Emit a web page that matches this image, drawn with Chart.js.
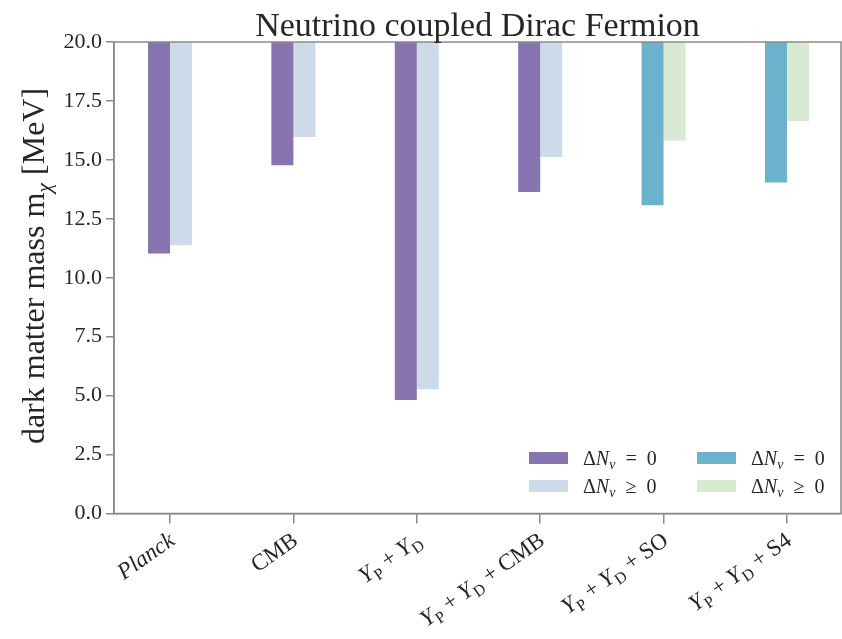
<!DOCTYPE html>
<html>
<head>
<meta charset="utf-8">
<script src="https://cdn.jsdelivr.net/npm/chart.js@4/dist/chart.umd.min.js"></script>
<style>
    html, body { margin: 0; padding: 0; background: #fff; }
    canvas { display: block; }
</style>
</head>
<body>
<canvas id="massChart" width="842" height="639"></canvas>
<script>
// Data
const categories = ['Planck', 'CMB', 'Y_P + Y_D', 'Y_P + Y_D + CMB', 'Y_P + Y_D + SO', 'Y_P + Y_D + S4'];
const deltaZero = [11.03, 14.77, 4.81, 13.64, 13.08, 14.04];      // ΔNν = 0
const deltaPositive = [11.38, 15.97, 5.27, 15.12, 15.82, 16.65];  // ΔNν ≥ 0
const yTop = 20;
const yTicks = [0, 2.5, 5, 7.5, 10, 12.5, 15, 17.5, 20];
const forecastCats = ['Y_P + Y_D + SO', 'Y_P + Y_D + S4'];

const COLORS = {
    purple: '#8874b1',
    lightBlue: '#cddae9',
    teal: '#6bb3cd',
    lightGreen: '#d9ead3',
    axis: '#8a8a8a',
    text: '#262626'
};
const SERIF = '"Liberation Serif", "DejaVu Serif", serif';

const isForecast = c => forecastCats.includes(c);
const darkColors = categories.map(c => isForecast(c) ? COLORS.teal : COLORS.purple);
const paleColors = categories.map(c => isForecast(c) ? COLORS.lightGreen : COLORS.lightBlue);

// Turn 'Y_P + Y_D' into pieces: Y italic, P subscript
function parseLabel(label) {
    if (label === 'Planck') return [{ t: 'Planck', it: true }];
    const parts = [];
    const re = /([A-Za-z])_([A-Za-z0-9])/g;
    let last = 0, m;
    while ((m = re.exec(label)) !== null) {
        if (m.index > last) parts.push({ t: label.slice(last, m.index) });
        parts.push({ t: m[1], it: true });
        parts.push({ t: m[2], sub: true });
        last = re.lastIndex;
    }
    if (last < label.length) parts.push({ t: label.slice(last) });
    return parts;
}

function partFont(p, size) {
    const s = p.sub ? Math.round(size * 0.7) : size;
    return (p.it ? 'italic ' : '') + s + 'px ' + SERIF;
}

function richWidth(ctx, parts, size) {
    let w = 0;
    parts.forEach(p => { ctx.font = partFont(p, size); w += ctx.measureText(p.t).width; });
    return w;
}

function drawRich(ctx, parts, x, y, size) {
    let cx = x;
    parts.forEach(p => {
        ctx.font = partFont(p, size);
        ctx.fillText(p.t, cx, p.sub ? y + size * 0.22 : y);
        cx += ctx.measureText(p.t).width;
    });
}

const nuParts = [{ t: 'Δ' }, { t: 'N', it: true }, { t: 'ν', it: true, sub: true }];
const legendItems = [
    { color: COLORS.purple, parts: nuParts.concat([{ t: '  =  0' }]) },
    { color: COLORS.teal, parts: nuParts.concat([{ t: '  =  0' }]) },
    { color: COLORS.lightBlue, parts: nuParts.concat([{ t: '  ≥  0' }]) },
    { color: COLORS.lightGreen, parts: nuParts.concat([{ t: '  ≥  0' }]) }
];

// Frame, title, axis title, rotated tick labels and the in-plot legend
const decorations = {
    id: 'decorations',
    afterDraw(chart) {
        const { ctx, chartArea: a, scales } = chart;
        ctx.save();

        ctx.strokeStyle = COLORS.axis;
        ctx.lineWidth = 1.5;
        ctx.strokeRect(a.left, a.top, a.right - a.left, a.bottom - a.top);

        ctx.fillStyle = COLORS.text;
        ctx.textBaseline = 'alphabetic';

        // title
        ctx.font = '34px ' + SERIF;
        ctx.textAlign = 'center';
        ctx.fillText('Neutrino coupled Dirac Fermion', (a.left + a.right) / 2, 36);
        ctx.textAlign = 'left';

        // y axis title
        const yParts = [{ t: 'dark matter mass m' }, { t: 'χ', it: true, sub: true }, { t: ' [MeV]' }];
        const ySize = 32;
        const yw = richWidth(ctx, yParts, ySize);
        ctx.save();
        ctx.translate(44, 266);
        ctx.rotate(-Math.PI / 2);
        drawRich(ctx, yParts, -yw / 2, 0, ySize);
        ctx.restore();

        // x tick labels, rotated 35 degrees, ending just right of each tick
        const xSize = 23;
        categories.forEach((c, i) => {
            const parts = parseLabel(c);
            const w = richWidth(ctx, parts, xSize);
            const px = scales.x.getPixelForValue(i);
            ctx.save();
            ctx.translate(px + 6, a.bottom + 30);
            ctx.rotate(-35 * Math.PI / 180);
            drawRich(ctx, parts, -w, 0, xSize);
            ctx.restore();
        });

        // legend, two columns inside the plot
        const cols = [529, 697];
        const rows = [458, 486];
        legendItems.forEach((item, k) => {
            const x = cols[k % 2], y = rows[Math.floor(k / 2)];
            ctx.fillStyle = item.color;
            ctx.fillRect(x, y - 6, 39, 12);
            ctx.fillStyle = COLORS.text;
            drawRich(ctx, item.parts, x + 54, y + 7, 20);
        });

        ctx.restore();
    }
};

const ctx = document.getElementById('massChart');
const chart = new Chart(ctx, {
    type: 'bar',
    data: {
        datasets: [
            {
                label: 'ΔNν = 0',
                data: categories.map((c, i) => ({ x: i, y: [deltaZero[i], yTop] })),
                backgroundColor: darkColors,
                borderWidth: 0
            },
            {
                label: 'ΔNν ≥ 0',
                data: categories.map((c, i) => ({ x: i, y: [deltaPositive[i], yTop] })),
                backgroundColor: paleColors,
                borderWidth: 0
            }
        ]
    },
    options: {
        responsive: false,
        animation: false,
        devicePixelRatio: 1,
        categoryPercentage: 0.357,
        barPercentage: 1,
        layout: { padding: { top: 42, right: 1, left: 0, bottom: 0 } },
        plugins: {
            legend: { display: false },
            tooltip: { enabled: false }
        },
        scales: {
            x: {
                type: 'linear',
                offset: false,
                min: -0.454,
                max: 5.438,
                afterBuildTicks: s => { s.ticks = categories.map((c, i) => ({ value: i })); },
                afterFit: s => { s.height = 125.5; },
                ticks: { display: false },
                grid: { offset: false, drawOnChartArea: false, drawTicks: true, tickLength: 10, color: COLORS.axis, lineWidth: 1.5 },
                border: { display: true, color: COLORS.axis, width: 1.5 }
            },
            y: {
                min: 0,
                max: yTop,
                afterBuildTicks: s => { s.ticks = yTicks.map(v => ({ value: v })); },
                afterFit: s => { s.width = 114; },
                ticks: {
                    callback: v => Number(v).toFixed(1),
                    color: COLORS.text,
                    font: { family: SERIF, size: 22 },
                    padding: 4
                },
                grid: { drawOnChartArea: false, drawTicks: true, tickLength: 8, color: COLORS.axis, lineWidth: 1.5 },
                border: { display: true, color: COLORS.axis, width: 1.5 }
            }
        }
    },
    plugins: [decorations]
});
</script>
</body>
</html>
